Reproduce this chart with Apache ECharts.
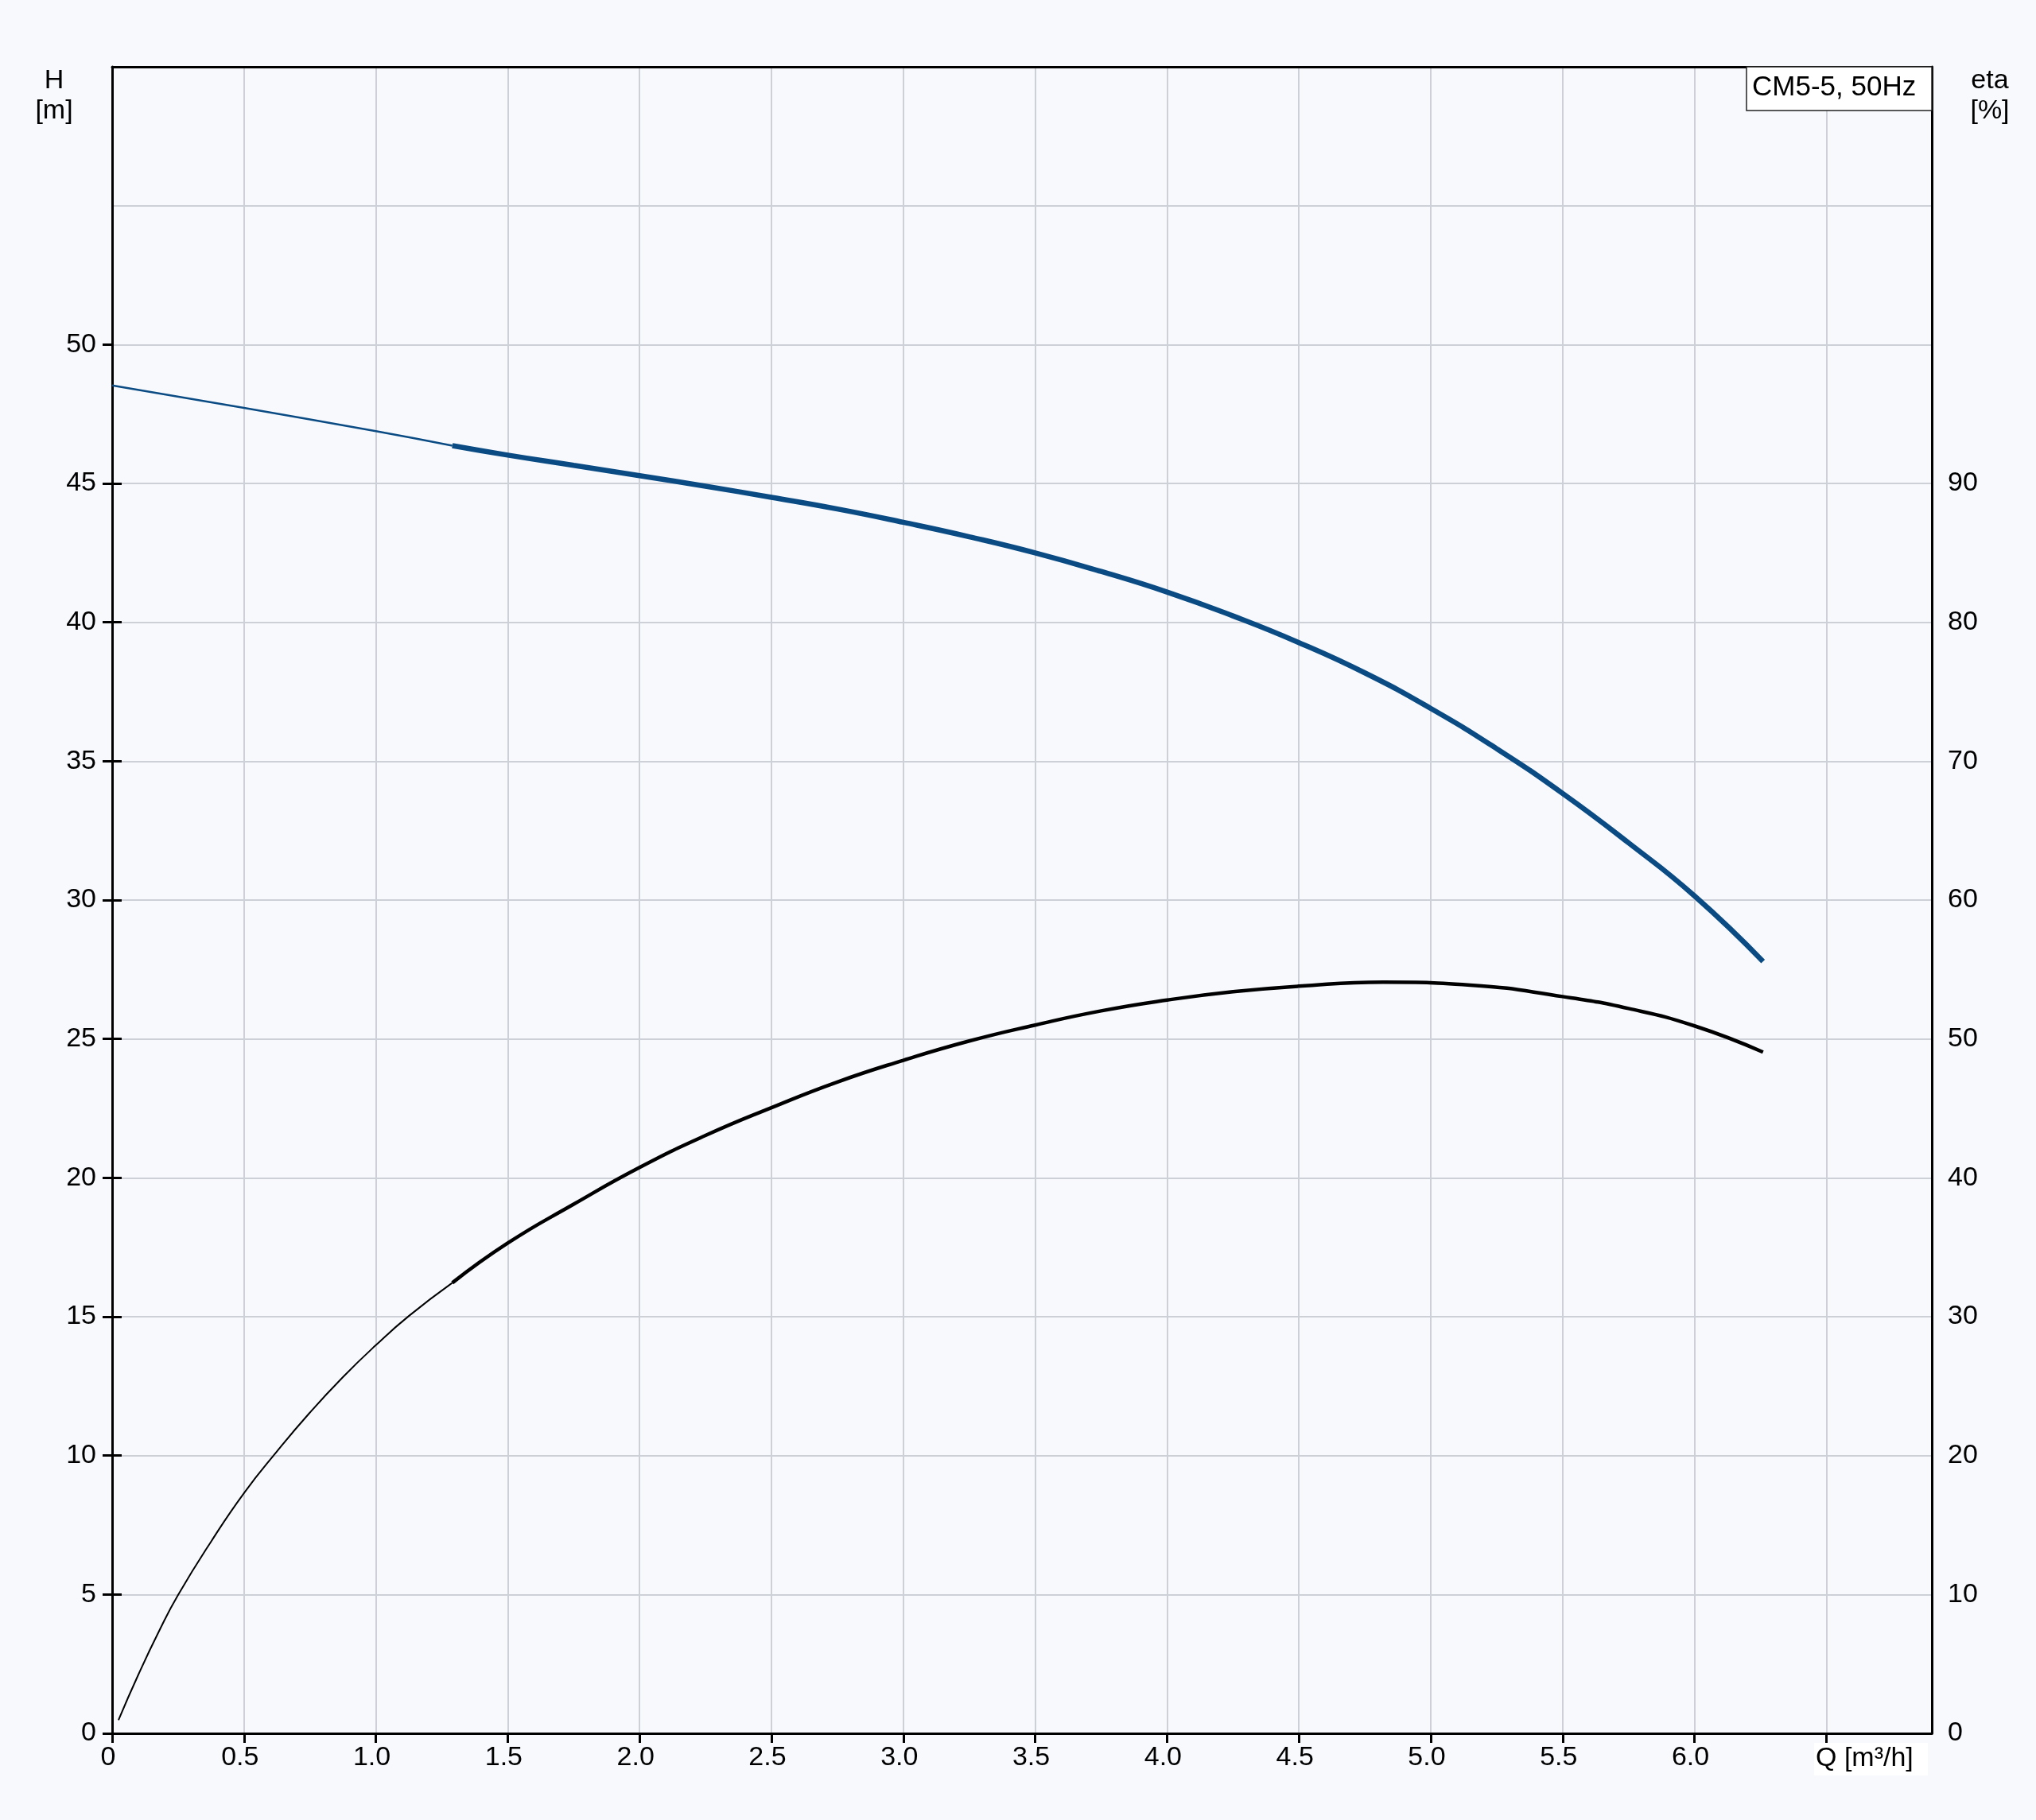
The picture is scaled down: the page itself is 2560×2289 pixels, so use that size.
<!DOCTYPE html>
<html>
<head>
<meta charset="utf-8">
<script src="https://cdn.jsdelivr.net/npm/echarts@6/dist/echarts.min.js"></script>
<style>
html,body{margin:0;padding:0;background:#f7f9fd;}
#c{width:2560px;height:2289px;}
</style>
</head>
<body>
<div id="c"></div>
<script>
// ---- data ----
const qHThin = [0, 0.5, 1.0, 1.29];
const hThin  = [48.53, 47.72, 46.88, 46.36];
const qHThick = [1.29, 1.5, 1.75, 2.0, 2.25, 2.5, 2.75, 3.0, 3.25, 3.5, 3.75, 4.0, 4.25, 4.5, 4.75, 5.0, 5.25, 5.5, 5.75, 6.0, 6.26];
const hThick  = [46.36, 46.02, 45.65, 45.28, 44.9, 44.5, 44.08, 43.6, 43.08, 42.5, 41.83, 41.09, 40.23, 39.27, 38.18, 36.9, 35.45, 33.84, 32.06, 30.15, 27.79];
const qEThin = [0.024, 0.1, 0.18, 0.25, 0.375, 0.5, 0.625, 0.75, 0.875, 1.0, 1.125, 1.29];
const eThin  = [0.95, 4.25, 7.44, 9.96, 13.8, 17.3, 20.3, 23.1, 25.65, 27.95, 30.05, 32.44];
const qEThick = [1.29, 1.5, 1.75, 2.0, 2.25, 2.5, 2.75, 3.0, 3.25, 3.5, 3.75, 4.0, 4.25, 4.5, 4.82, 5.15, 5.5, 5.75, 6.0, 6.26];
const eThick  = [32.44, 35.3, 38.1, 40.75, 43.05, 45.05, 46.9, 48.46, 49.85, 51.0, 52.02, 52.8, 53.4, 53.8, 54.09, 53.88, 53.05, 52.19, 50.94, 49.05];
const xTicks = [0, 0.5, 1, 1.5, 2, 2.5, 3, 3.5, 4, 4.5, 5, 5.5, 6, 6.5];
const hTicks = [0, 5, 10, 15, 20, 25, 30, 35, 40, 45, 50];
const eTicks = [0, 10, 20, 30, 40, 50, 60, 70, 80, 90];
const title = 'CM5-5, 50Hz';
const xName = 'Q [m³/h]';
const hName = 'H\n[m]';
const eName = 'eta\n[%]';

const zip = (a, b) => a.map((v, i) => [v, b[i]]);
const FONT = '"Liberation Sans", Arial, sans-serif';
const FS = 34;
const BLUE = '#0a4b84';

const chart = echarts.init(document.getElementById('c'), null, {renderer: 'canvas'});
const tickStyle = {show: true, length: 12, lineStyle: {color: '#000', width: 3}};
const axisLineStyle = {show: true, onZero: false, lineStyle: {color: '#000', width: 3}};
const opt = {
  backgroundColor: '#f7f9fd',
  animation: false,
  grid: {left: 141, right: 131, top: 84, bottom: 109, show: false},
  xAxis: [
    {
      type: 'value', min: 0, max: 6.9, interval: 0.5, position: 'bottom',
      axisLine: axisLineStyle,
      axisTick: Object.assign({customValues: xTicks}, tickStyle),
      axisLabel: {
        customValues: xTicks.filter(v => v <= 6),
        formatter: v => v === 0 ? '0' : v.toFixed(1),
        fontSize: FS, color: '#000', fontFamily: FONT, margin: 14, padding: [0, 10, 0, 0]
      },
      splitLine: {show: true, lineStyle: {color: '#cdd0d6', width: 2}}
    },
    {
      type: 'value', min: 0, max: 6.9, interval: 0.5, position: 'top',
      axisLine: axisLineStyle, axisTick: {show: false}, axisLabel: {show: false}, splitLine: {show: false}
    }
  ],
  yAxis: [
    {
      type: 'value', min: 0, max: 60, interval: 5, position: 'left',
      axisLine: axisLineStyle,
      axisTick: {show: false},
      axisLabel: {formatter: v => v <= 50 ? String(v) : '', fontSize: FS, color: '#000', fontFamily: FONT, margin: 20},
      splitLine: {show: true, lineStyle: {color: '#cdd0d6', width: 2}}
    },
    {
      type: 'value', min: 0, max: 120, interval: 10, position: 'right',
      axisLine: axisLineStyle,
      axisTick: {show: false},
      axisLabel: {formatter: v => v <= 90 ? String(v) : '', fontSize: FS, color: '#000', fontFamily: FONT, margin: 20},
      splitLine: {show: false}
    },
    {
      type: 'value', min: 0, max: 60, interval: 5, position: 'left',
      axisLine: {show: false}, axisLabel: {show: false}, splitLine: {show: false},
      axisTick: Object.assign({customValues: hTicks}, tickStyle)
    },
    {
      type: 'value', min: 0, max: 120, interval: 10, position: 'right',
      axisLine: {show: false}, axisLabel: {show: false}, splitLine: {show: false},
      axisTick: Object.assign({customValues: eTicks}, tickStyle)
    }
  ],
  series: [
    {type: 'line', yAxisIndex: 1, data: zip(qEThin, eThin), smooth: 0.5, showSymbol: false, lineStyle: {color: '#000', width: 2}, z: 3},
    {type: 'line', yAxisIndex: 1, data: zip(qEThick, eThick), smooth: 0.5, showSymbol: false, lineStyle: {color: '#000', width: 4.5}, z: 3},
    {type: 'line', yAxisIndex: 0, data: zip(qHThin, hThin), smooth: 0.5, showSymbol: false, lineStyle: {color: BLUE, width: 2.5}, z: 4},
    {type: 'line', yAxisIndex: 0, data: zip(qHThick, hThick), smooth: 0.5, showSymbol: false, lineStyle: {color: BLUE, width: 6.5}, z: 4}
  ],
  graphic: [
    {type: 'text', x: 68, y: 121, style: {text: hName, fontSize: FS, fontFamily: FONT, fill: '#000', align: 'center', verticalAlign: 'middle', lineHeight: 38}},
    {type: 'text', x: 2502, y: 121, style: {text: eName, fontSize: FS, fontFamily: FONT, fill: '#000', align: 'center', verticalAlign: 'middle', lineHeight: 38}},
    {type: 'rect', x: 2196, y: 84, shape: {width: 233, height: 55}, style: {fill: '#ffffff', stroke: '#222', lineWidth: 1.5}, z: 10},
    {type: 'text', x: 2203, y: 110, style: {text: title, fontSize: 35, fontFamily: FONT, fill: '#000', align: 'left', verticalAlign: 'middle'}, z: 11},
    {type: 'rect', x: 2281, y: 2192, shape: {width: 143, height: 41}, style: {fill: '#ffffff'}, z: 10},
    {type: 'text', x: 2283, y: 2212, style: {text: xName, fontSize: FS, fontFamily: FONT, fill: '#000', align: 'left', verticalAlign: 'middle'}, z: 11}
  ]
};
chart.setOption(opt);
</script>
</body>
</html>
